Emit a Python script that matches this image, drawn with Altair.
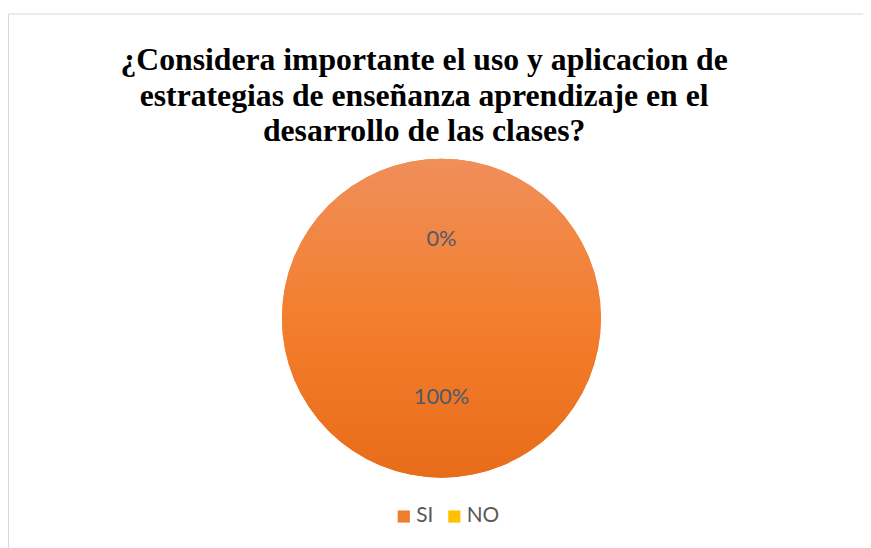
import altair as alt
import pandas as pd

categories = ["SI", "NO"]
values = [100, 0]
labels = ["100%", "0%"]
legend_colors = ["#F07C30", "#FFC000"]
title_lines = [
    "¿Considera importante el uso y aplicacion de",
    "estrategias de enseñanza aprendizaje en el",
    "desarrollo de las clases?",
]

df = pd.DataFrame({"cat": categories, "val": values, "label": labels, "ord": [0, 1]})

gradient = {
    "gradient": "linear",
    "x1": 0, "y1": 0, "x2": 0, "y2": 1,
    "stops": [
        {"offset": 0, "color": "#F08F5A"},
        {"offset": 0.5, "color": "#F37E2D"},
        {"offset": 1, "color": "#E86C19"},
    ],
}

CX, CY = 437.5, 307.5

base = alt.Chart(df).encode(
    theta=alt.Theta("val:Q", stack=True),
    order=alt.Order("ord:Q"),
    x=alt.value(CX),
    y=alt.value(CY),
)

pie_legend = base.mark_arc(outerRadius=161).encode(
    color=alt.Color(
        "cat:N",
        scale=alt.Scale(domain=categories, range=legend_colors),
        sort=categories,
        legend=alt.Legend(
            title=None,
            orient="none",
            legendX=389,
            legendY=497,
            direction="horizontal",
            symbolType="square",
            symbolSize=150,
            symbolStrokeWidth=0,
            labelFontSize=21,
            labelFont="Lato",
            labelColor="#595959",
            columnPadding=10,
            labelOffset=2,
        ),
    )
)

pie_grad = base.mark_arc(outerRadius=161, fill=gradient).encode(
    fill=alt.value(gradient)
)

text = base.mark_text(radius=80, fontSize=22, font="Lato", color="#4F5A6A").encode(
    text="label:N"
)

chart = alt.layer(pie_legend, pie_grad, text).properties(
    width=863,
    height=540,
    autosize=alt.AutoSizeParams(type="none"),
    padding={"left": 0, "top": 3, "right": 0, "bottom": 0},
    title=alt.TitleParams(
        text=title_lines,
        anchor="middle",
        font="Liberation Serif",
        fontSize=32,
        fontWeight="bold",
        color="#000000",
        lineHeight=36,
        baseline="top",
        offset=0,
        dx=-11.5,
        dy=136,
    ),
).configure_view(stroke="#D9D9D9", strokeWidth=1)

chart.save("out.html", embed_options={"renderer": "svg", "actions": False})
